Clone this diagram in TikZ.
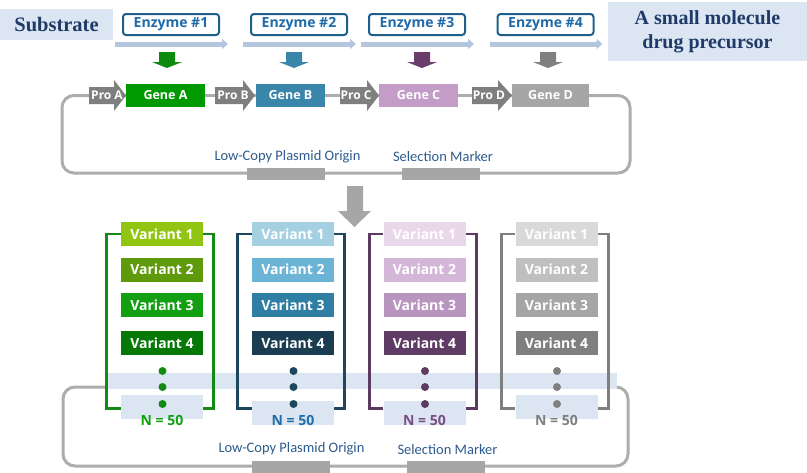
\documentclass[tikz,border=0pt]{standalone}
\usepackage{fontspec}
\setmainfont{Liberation Serif}
\newfontfamily\boldsans{Open Sans}
\newfontfamily\plainsans{Carlito}
\usetikzlibrary{arrows.meta,backgrounds}
\definecolor{navy}{HTML}{1F3A68}
\definecolor{paleblue}{HTML}{DCE6F2}
\definecolor{enzline}{HTML}{1F5F8E}
\definecolor{enztext}{HTML}{1F6AA8}
\definecolor{flowblue}{HTML}{B4C6DD}
\definecolor{labelblue}{HTML}{2E5C8E}
\definecolor{linegray}{HTML}{ADADAD}
\definecolor{bargray}{HTML}{A6A6A6}
\definecolor{progray}{HTML}{7F7F7F}
\definecolor{geneA}{HTML}{009A00}
\definecolor{geneB}{HTML}{3A86AA}
\definecolor{geneC}{HTML}{C39DC8}
\definecolor{geneD}{HTML}{A6A6A6}
\definecolor{arrA}{HTML}{0E8A0E}
\definecolor{arrB}{HTML}{3A86AA}
\definecolor{arrC}{HTML}{6A3D6A}
\definecolor{arrD}{HTML}{808080}
\definecolor{v1g1}{HTML}{92C512}
\definecolor{v2g1}{HTML}{5E9A0A}
\definecolor{v3g1}{HTML}{12A012}
\definecolor{v4g1}{HTML}{067806}
\definecolor{br1}{HTML}{138A13}
\definecolor{nt1}{HTML}{10A010}
\definecolor{v1g2}{HTML}{A5D0E2}
\definecolor{v2g2}{HTML}{6CB4D6}
\definecolor{v3g2}{HTML}{2E7FA3}
\definecolor{v4g2}{HTML}{1B3D52}
\definecolor{br2}{HTML}{1E465E}
\definecolor{nt2}{HTML}{1D6EA8}
\definecolor{v1g3}{HTML}{E8D8EA}
\definecolor{v2g3}{HTML}{D4B7D8}
\definecolor{v3g3}{HTML}{B895BF}
\definecolor{v4g3}{HTML}{5E3C65}
\definecolor{br3}{HTML}{5C3A61}
\definecolor{nt3}{HTML}{7A4D82}
\definecolor{v1g4}{HTML}{D9D9D9}
\definecolor{v2g4}{HTML}{BFBFBF}
\definecolor{v3g4}{HTML}{A5A5A5}
\definecolor{v4g4}{HTML}{7F7F7F}
\definecolor{br4}{HTML}{7F7F7F}
\definecolor{nt4}{HTML}{7F7F7F}
\tikzset{
  lightbox/.style={fill=paleblue, inner sep=0pt},
  enzyme/.style={draw=enzline, line width=2pt, fill=white, rounded corners=3pt, minimum width=96pt, minimum height=21pt, inner sep=0pt, text=enztext, font=\boldsans\bfseries\fontsize{14}{16}\selectfont},
  flow/.style={draw=flowblue, line width=5pt, -{Triangle[length=6pt,width=10pt]}},
  gene/.style={minimum height=23pt, inner sep=0pt, text=white, font=\boldsans\bfseries\fontsize{12.5}{14}\selectfont},
  protext/.style={inner sep=0pt, text=white, font=\boldsans\bfseries\fontsize{12}{14}\selectfont},
  plabel/.style={inner sep=0pt, text=labelblue, font=\plainsans\fontsize{14.5}{16}\selectfont},
  barbox/.style={fill=bargray, inner sep=0pt, minimum height=12pt, minimum width=78pt},
  backbone/.style={draw=linegray, line width=3pt},
  variant/.style={minimum width=82pt, minimum height=24pt, inner sep=0pt, text=white, font=\boldsans\bfseries\fontsize{14}{16}\selectfont},
  bracket/.style={line width=2.8pt},
  ntext/.style={inner sep=0pt, font=\boldsans\bfseries\fontsize{14}{16}\selectfont}
}
\begin{document}
\begin{tikzpicture}[x=1pt,y=-1pt]
\useasboundingbox (0,0) rectangle (807,472);
\node[lightbox, minimum width=113pt, minimum height=31pt, text=navy, font=\bfseries\fontsize{20.5}{24}\selectfont] (substrate) at (56.5,24.5) {Substrate};
\node[lightbox, minimum width=199pt, minimum height=59pt, text=navy, align=center, font=\bfseries\fontsize{20}{24}\selectfont] (precursor) at (707.5,31.5) {A small molecule\\drug precursor};
\foreach \i/\ex/\ax/\acol in {1/171/167/arrA,2/299/294/arrB,3/417/422/arrC,4/545.5/548/arrD} {
  \node[enzyme] (enz\i) at (\ex,24.5) {Enzyme \#\i};
  \draw[flow] ([shift={(-7pt,-8pt)}]enz\i.south west) -- ([shift={(8pt,-8pt)}]enz\i.south east);
  \fill[fill=\acol] (\ax,52) ++(-8,0) -- ++(16,0) -- ++(0,10) -- ++(7,0) -- ++(-15,6) -- ++(-15,-6) -- ++(7,0) -- cycle;
}
\foreach \n/\x/\b/\t/\tx in {A/89/114/126/107,B/215/243/255/233,C/340/367/379/356,D/472/498/512/489} {
  \fill[progray] (\x,87) -- (\b,87) -- (\b,80) -- (\t,95.5) -- (\b,111) -- (\b,104) -- (\x,104) -- cycle;
  \node[protext] (pro\n) at (\tx,95) {Pro \n};
}
\node[gene, fill=geneA, minimum width=79pt] (geneA) at (165.5,95.5) {Gene A};
\node[gene, fill=geneB, minimum width=69pt] (geneB) at (290.5,95.5) {Gene B};
\node[gene, fill=geneC, minimum width=79pt] (geneC) at (418.5,95.5) {Gene C};
\node[gene, fill=geneD, minimum width=77pt] (geneD) at (550.5,95.5) {Gene D};
\node[plabel] (ori1) at (287.5,157) {Low-Copy Plasmid Origin};
\node[plabel] (sel1) at (443,157) {Selection Marker};
\node[barbox] (oribar1) at (286,174) {};
\node[barbox] (selbar1) at (441,174) {};
\fill[bargray] (347,186) -- (363,186) -- (363,211) -- (371,211) -- (354.5,227) -- (338,211) -- (347,211) -- cycle;
\node[lightbox, minimum width=512pt, minimum height=16pt] (band) at (361,381) {};
\foreach \g/\cx/\ny in {1/162/407,2/293/412.5,3/424.5/412.5,4/556.5/407} {
  \node[lightbox, minimum width=82pt, minimum height=24pt] (nbox\g) at (\cx,\ny) {};
  \foreach \v/\vy in {1/234,2/269.5,3/305,4/343}
    \node[variant, fill=v\v g\g] (var\g\v) at (\cx,\vy) {Variant \v};
  \draw[bracket, draw=br\g] (var\g1.west) -- ++(-14,0) -- ++(0,174.5) -- ++(14,0);
  \draw[bracket, draw=br\g] (var\g1.east) -- ++(10.5,0) -- ++(0,174.5) -- ++(-10.5,0);
  \foreach \dy in {371,387,404}
    \fill[fill=br\g] (\cx+0.5,\dy) circle (4pt);
  \node[ntext, text=nt\g] (n\g) at (\cx,420) {N = 50};
}
\node[plabel] (ori2) at (291.5,449) {Low-Copy Plasmid Origin};
\node[plabel] (sel2) at (447.5,450) {Selection Marker};
\node[barbox] (oribar2) at (291,467) {};
\node[barbox] (selbar2) at (446,467) {};
\begin{scope}[on background layer]
\fill[white] (0,0) rectangle (807,472);
\draw[backbone, rounded corners=12pt] (geneA.west) -| (62,173) -| (630,95.5) -- (geneD.east);
\draw[backbone] (geneA.east) -- (geneD.west);
\draw[backbone, rounded corners=12pt] ([yshift=-6pt]band.west) -| (63,466) -| (628,387) -- ([yshift=-6pt]band.east);
\end{scope}
\end{tikzpicture}
\end{document}
